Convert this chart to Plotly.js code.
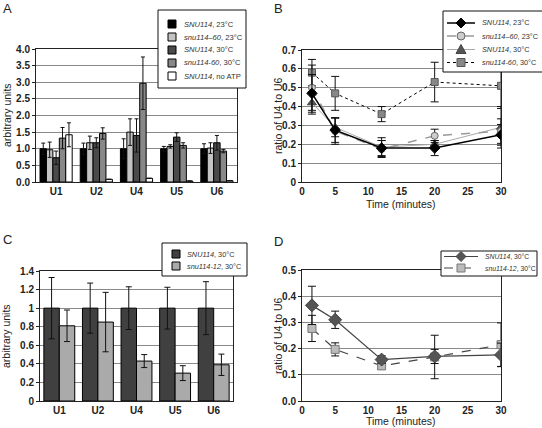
<!DOCTYPE html>
<html><head><meta charset="utf-8">
<script src="https://cdn.plot.ly/plotly-3.0.1.min.js"></script>
<style>html,body{margin:0;padding:0;background:#fff}#chart{width:542px;height:428px}</style>
</head><body><div id="chart"></div>
<script>
// ---------- DATA ----------
const genesAC = ['U1','U2','U4','U5','U6'];
// Panel A
const aSNU23 = [1.0, 1.0, 1.0, 1.0, 1.0];
const aSNU23err = [0.17, 0.17, 0.30, 0.07, 0.15];
const a60_23 = [0.97, 1.18, 1.50, 1.07, 1.02];
const a60_23err = [0.23, 0.20, 0.40, 0.05, 0.16];
const aSNU30 = [0.73, 1.18, 1.40, 1.35, 1.18];
const aSNU30err = [0.20, 0.15, 0.50, 0.13, 0.22];
const a60_30 = [1.32, 1.46, 2.97, 1.10, 0.93];
const a60_30err = [0.32, 0.17, 0.79, 0.08, 0.05];
const aNoATP = [1.42, 0.08, 0.11, 0.03, 0.04];
const aNoATPerr = [0.36, 0, 0, 0, 0];
// Panel B
const timeB = [1.5, 5, 12, 20, 30];
const bSNU23 = [0.47, 0.275, 0.18, 0.18, 0.25];
const bSNU23err = [0.10, 0.065, 0.04, 0.04, 0.055];
const b60_23 = [0.50, 0.27, 0.175, 0.245, 0.27];
const b60_23err = [0.12, 0.07, 0.045, 0.035, 0.065];
const bSNU30 = [0.42, 0.29, 0.185, 0.20, 0.29];
const bSNU30err = [0.06, 0.05, 0.05, 0.02, 0.11];
const b60_30 = [0.58, 0.47, 0.36, 0.53, 0.51];
const b60_30err = [0.07, 0.09, 0.04, 0.105, 0.12];
// Panel C
const cSNU30 = [1.0, 1.0, 1.0, 1.0, 1.0];
const cSNU30err = [0.33, 0.27, 0.23, 0.225, 0.285];
const c12_30 = [0.81, 0.85, 0.43, 0.30, 0.39];
const c12_30err = [0.17, 0.32, 0.07, 0.08, 0.115];
// Panel D
const timeD = [1.5, 5, 12, 20, 30];
const dSNU30 = [0.365, 0.31, 0.158, 0.17, 0.176];
const dSNU30err = [0.073, 0.033, 0.015, 0.027, 0.045];
const d12_30 = [0.277, 0.197, 0.134, 0.168, 0.215];
const d12_30err = [0.05, 0.025, 0.012, 0.083, 0.083];

// labels
const legA = ['<i>SNU114</i>, 23°C','<i>snu114–60</i>, 23°C','<i>SNU114</i>, 30°C','<i>snu114-60</i>, 30°C','<i>SNU114</i>, no ATP'];
const legB = ['<i>SNU114</i>, 23°C','<i>snu114–60</i>, 23°C','<i>SNU114</i>, 30°C','<i>snu114-60</i>, 30°C'];
const legC = ['<i>SNU114</i>, 30°C','<i>snu114-12</i>, 30°C'];
const legD = ['<i>SNU114</i>, 30°C','<i>snu114-12</i>, 30°C'];
const yTitleBars = 'arbitrary units';
const yTitleRatio = 'ratio of U4 to U6';
const xTitleTime = 'Time (minutes)';

// ---------- STYLE / LAYOUT ----------
const W = 542, H = 428;
const FONT = 'Liberation Sans, Arial, sans-serif';
const fx = x => x / W, fy = y => 1 - y / H;

function bar(y, err, color, xa, ya, cw){
  return {type:'bar', x:genesAC, y:y, xaxis:xa, yaxis:ya, showlegend:false,
    marker:{color:color, line:{color:'#000', width:1}},
    error_y:{type:'data', array:err, visible:true, color:'#111', thickness:1, width:cw}};
}
function line(x, y, err, xa, ya, lc, lw, dash, sym, mc, mlc, ms){
  return {type:'scatter', mode:'lines+markers', x:x, y:y, xaxis:xa, yaxis:ya, showlegend:false,
    line:{color:lc, width:lw, dash:dash},
    marker:{symbol:sym, color:mc, size:ms, line:{color:mlc, width:1}},
    error_y:{type:'data', array:err, visible:true, color:'#111', thickness:1, width:4}};
}

const traces = [
  bar(aSNU23, aSNU23err, '#000000', 'x', 'y', 2),
  bar(a60_23, a60_23err, '#c4c4c4', 'x', 'y', 2),
  bar(aSNU30, aSNU30err, '#4a4a4a', 'x', 'y', 2),
  bar(a60_30, a60_30err, '#888888', 'x', 'y', 2),
  bar(aNoATP, aNoATPerr, '#ffffff', 'x', 'y', 2),
  line(timeB, b60_30, b60_30err, 'x2','y2', '#000', 1, 'dot', 'square', '#888', '#555', 7),
  line(timeB, bSNU30, bSNU30err, 'x2','y2', '#aaa', 1, 'solid', 'triangle-up', '#555', '#444', 8),
  line(timeB, b60_23, b60_23err, 'x2','y2', '#999', 1.5, 'dash', 'circle', '#cccccc', '#666', 7),
  line(timeB, bSNU23, bSNU23err, 'x2','y2', '#000', 1.5, 'solid', 'diamond', '#000', '#000', 8),
  bar(cSNU30, cSNU30err, '#404040', 'x3', 'y3', 3),
  bar(c12_30, c12_30err, '#aaaaaa', 'x3', 'y3', 3),
  line(timeD, d12_30, d12_30err, 'x4','y4', '#444', 1.2, 'dash', 'square', '#bbbbbb', '#777', 8),
  line(timeD, dSNU30, dSNU30err, 'x4','y4', '#444', 1.2, 'solid', 'diamond', '#555', '#444', 10),
];

const tickF = {family:FONT, size:10, color:'#222', weight:'bold'};
function yax(domain, range, dtick, fmt, anchor){
  return {domain:domain, range:range, dtick:dtick, tickformat:fmt, anchor:anchor,
    showgrid:true, gridcolor:'#8a8a8a', gridwidth:1, zeroline:false,
    showline:true, linecolor:'#222', linewidth:1, mirror:true, ticks:'outside', ticklen:3, tickcolor:'#222',
    tickfont:tickF, fixedrange:true};
}
function xcat(domain, anchor){
  return {domain:domain, anchor:anchor, type:'category', range:[-0.5,4.5], showgrid:false,
    showline:true, linecolor:'#222', linewidth:1, mirror:true, ticks:'', tickfont:tickF, fixedrange:true};
}
function xtime(domain, anchor){
  return {domain:domain, anchor:anchor, range:[0,30], dtick:5, showgrid:false, zeroline:false,
    showline:true, linecolor:'#222', linewidth:1, mirror:true, ticks:'',
    tickfont:tickF, fixedrange:true};
}

const shapes = [], annotations = [];
function box(x0,y0,x1,y1){
  shapes.push({type:'rect', xref:'paper', yref:'paper', x0:fx(x0), x1:fx(x1), y0:fy(y1), y1:fy(y0),
    fillcolor:'#fff', line:{color:'#111', width:1}, layer:'above'});
}
function txt(x,y,t,size){
  annotations.push({xref:'paper', yref:'paper', x:fx(x), y:fy(y), text:t, showarrow:false,
    xanchor:'left', yanchor:'middle', font:{family:FONT, size:size, color:'#333'}});
}
function sq(cx,cy,s,fill,lc){
  shapes.push({type:'rect', xref:'paper', yref:'paper', x0:fx(cx-s/2), x1:fx(cx+s/2), y0:fy(cy+s/2), y1:fy(cy-s/2),
    fillcolor:fill, line:{color:lc, width:1}, layer:'above'});
}
function seg(x0,x1,y,color,w,dash){
  shapes.push({type:'line', xref:'paper', yref:'paper', x0:fx(x0), x1:fx(x1), y0:fy(y), y1:fy(y),
    line:{color:color, width:w, dash:dash}, layer:'above'});
}
function poly(pts,fill,lc){
  const p = pts.map((q,i)=>(i?'L':'M')+fx(q[0]).toFixed(5)+','+fy(q[1]).toFixed(5)).join(' ')+' Z';
  shapes.push({type:'path', xref:'paper', yref:'paper', path:p, fillcolor:fill, line:{color:lc, width:1}, layer:'above'});
}
function circ(cx,cy,r,fill,lc){
  shapes.push({type:'circle', xref:'paper', yref:'paper', x0:fx(cx-r), x1:fx(cx+r), y0:fy(cy+r), y1:fy(cy-r),
    fillcolor:fill, line:{color:lc, width:1}, layer:'above'});
}

// Legend A
box(158,10,246,88);
const aCols = ['#000000','#c4c4c4','#4a4a4a','#888888','#ffffff'];
[24,37,50,63,76].forEach((y,i)=>{ sq(172,y,8,aCols[i],'#000'); txt(182,y,legA[i],7.6); });
// Legend B
box(443,11,545,72);
const rowsB = [23,36,49.5,62.5];
seg(447,475,rowsB[0],'#000',1.5,'solid'); poly([[461,rowsB[0]-5],[466,rowsB[0]],[461,rowsB[0]+5],[456,rowsB[0]]],'#000','#000'); txt(480,rowsB[0],legB[0],7.3);
seg(447,475,rowsB[1],'#999',1.5,'dash'); circ(461,rowsB[1],4,'#cccccc','#666'); txt(480,rowsB[1],legB[1],7.3);
seg(447,475,rowsB[2],'#aaa',1,'solid'); poly([[461,rowsB[2]-5],[466,rowsB[2]+4],[456,rowsB[2]+4]],'#555','#444'); txt(480,rowsB[2],legB[2],7.3);
seg(447,475,rowsB[3],'#000',1,'dot'); sq(461,rowsB[3],8,'#888','#555'); txt(480,rowsB[3],legB[3],7.3);
// Legend C
box(162,243,247,276);
sq(176,254,8,'#404040','#000'); txt(185,254,legC[0],7.3);
sq(176,266,8,'#aaaaaa','#000'); txt(185,266,legC[1],7.3);
// Legend D
box(441,251,537,276);
seg(444,478,256.5,'#444',1.2,'solid'); poly([[461,251.5],[466,256.5],[461,261.5],[456,256.5]],'#555','#444'); txt(483,256.5,legD[0],6.8);
seg(444,478,268,'#444',1.2,'dash'); sq(461,268,8,'#bbbbbb','#777'); txt(483,268,legD[1],6.8);

// Axis titles
const tF = {family:FONT, size:10.5, color:'#222'};
function ytitle(x,y,t){ annotations.push({xref:'paper', yref:'paper', x:fx(x), y:fy(y), text:t, showarrow:false,
  textangle:-90, xanchor:'center', yanchor:'middle', font:tF}); }
function xtitle(x,y,t){ annotations.push({xref:'paper', yref:'paper', x:fx(x), y:fy(y), text:t, showarrow:false,
  xanchor:'center', yanchor:'middle', font:tF}); }
ytitle(7,115,yTitleBars);
ytitle(278,116,yTitleRatio);
ytitle(6,336,yTitleBars);
ytitle(278,336,yTitleRatio);
xtitle(401,204,xTitleTime);
xtitle(401,421,xTitleTime);

// Panel letters
[['A',1,8],['B',272,8],['C',1,240],['D',272,241]].forEach(l=>{
  annotations.push({xref:'paper', yref:'paper', x:fx(l[1]), y:fy(l[2]), text:l[0], showarrow:false,
    xanchor:'left', yanchor:'middle', font:{family:FONT, size:13, color:'#222'}});
});

const layout = {
  width:W, height:H, margin:{l:0,r:0,t:0,b:0}, paper_bgcolor:'#fff', plot_bgcolor:'#fff',
  font:{family:FONT}, showlegend:false, barmode:'group', bargap:0.2, bargroupgap:0,
  xaxis: xcat([fx(36), fx(237)], 'y'),
  yaxis: yax([fy(182), fy(49)], [0,4], 0.5, '.1f', 'x'),
  xaxis2: xtime([fx(302), fx(501)], 'y2'),
  yaxis2: yax([fy(182), fy(50)], [0,0.7], 0.1, '', 'x2'),
  xaxis3: xcat([fx(40), fx(233)], 'y3'),
  yaxis3: yax([fy(401), fy(271)], [0,1.4], 0.2, '', 'x3'),
  xaxis4: xtime([fx(302), fx(501)], 'y4'),
  yaxis4: yax([fy(401), fy(270)], [0,0.5], 0.1, '.1f', 'x4'),
  shapes: shapes, annotations: annotations
};
Plotly.newPlot('chart', traces, layout, {staticPlot:true, displayModeBar:false});
</script></body></html>
